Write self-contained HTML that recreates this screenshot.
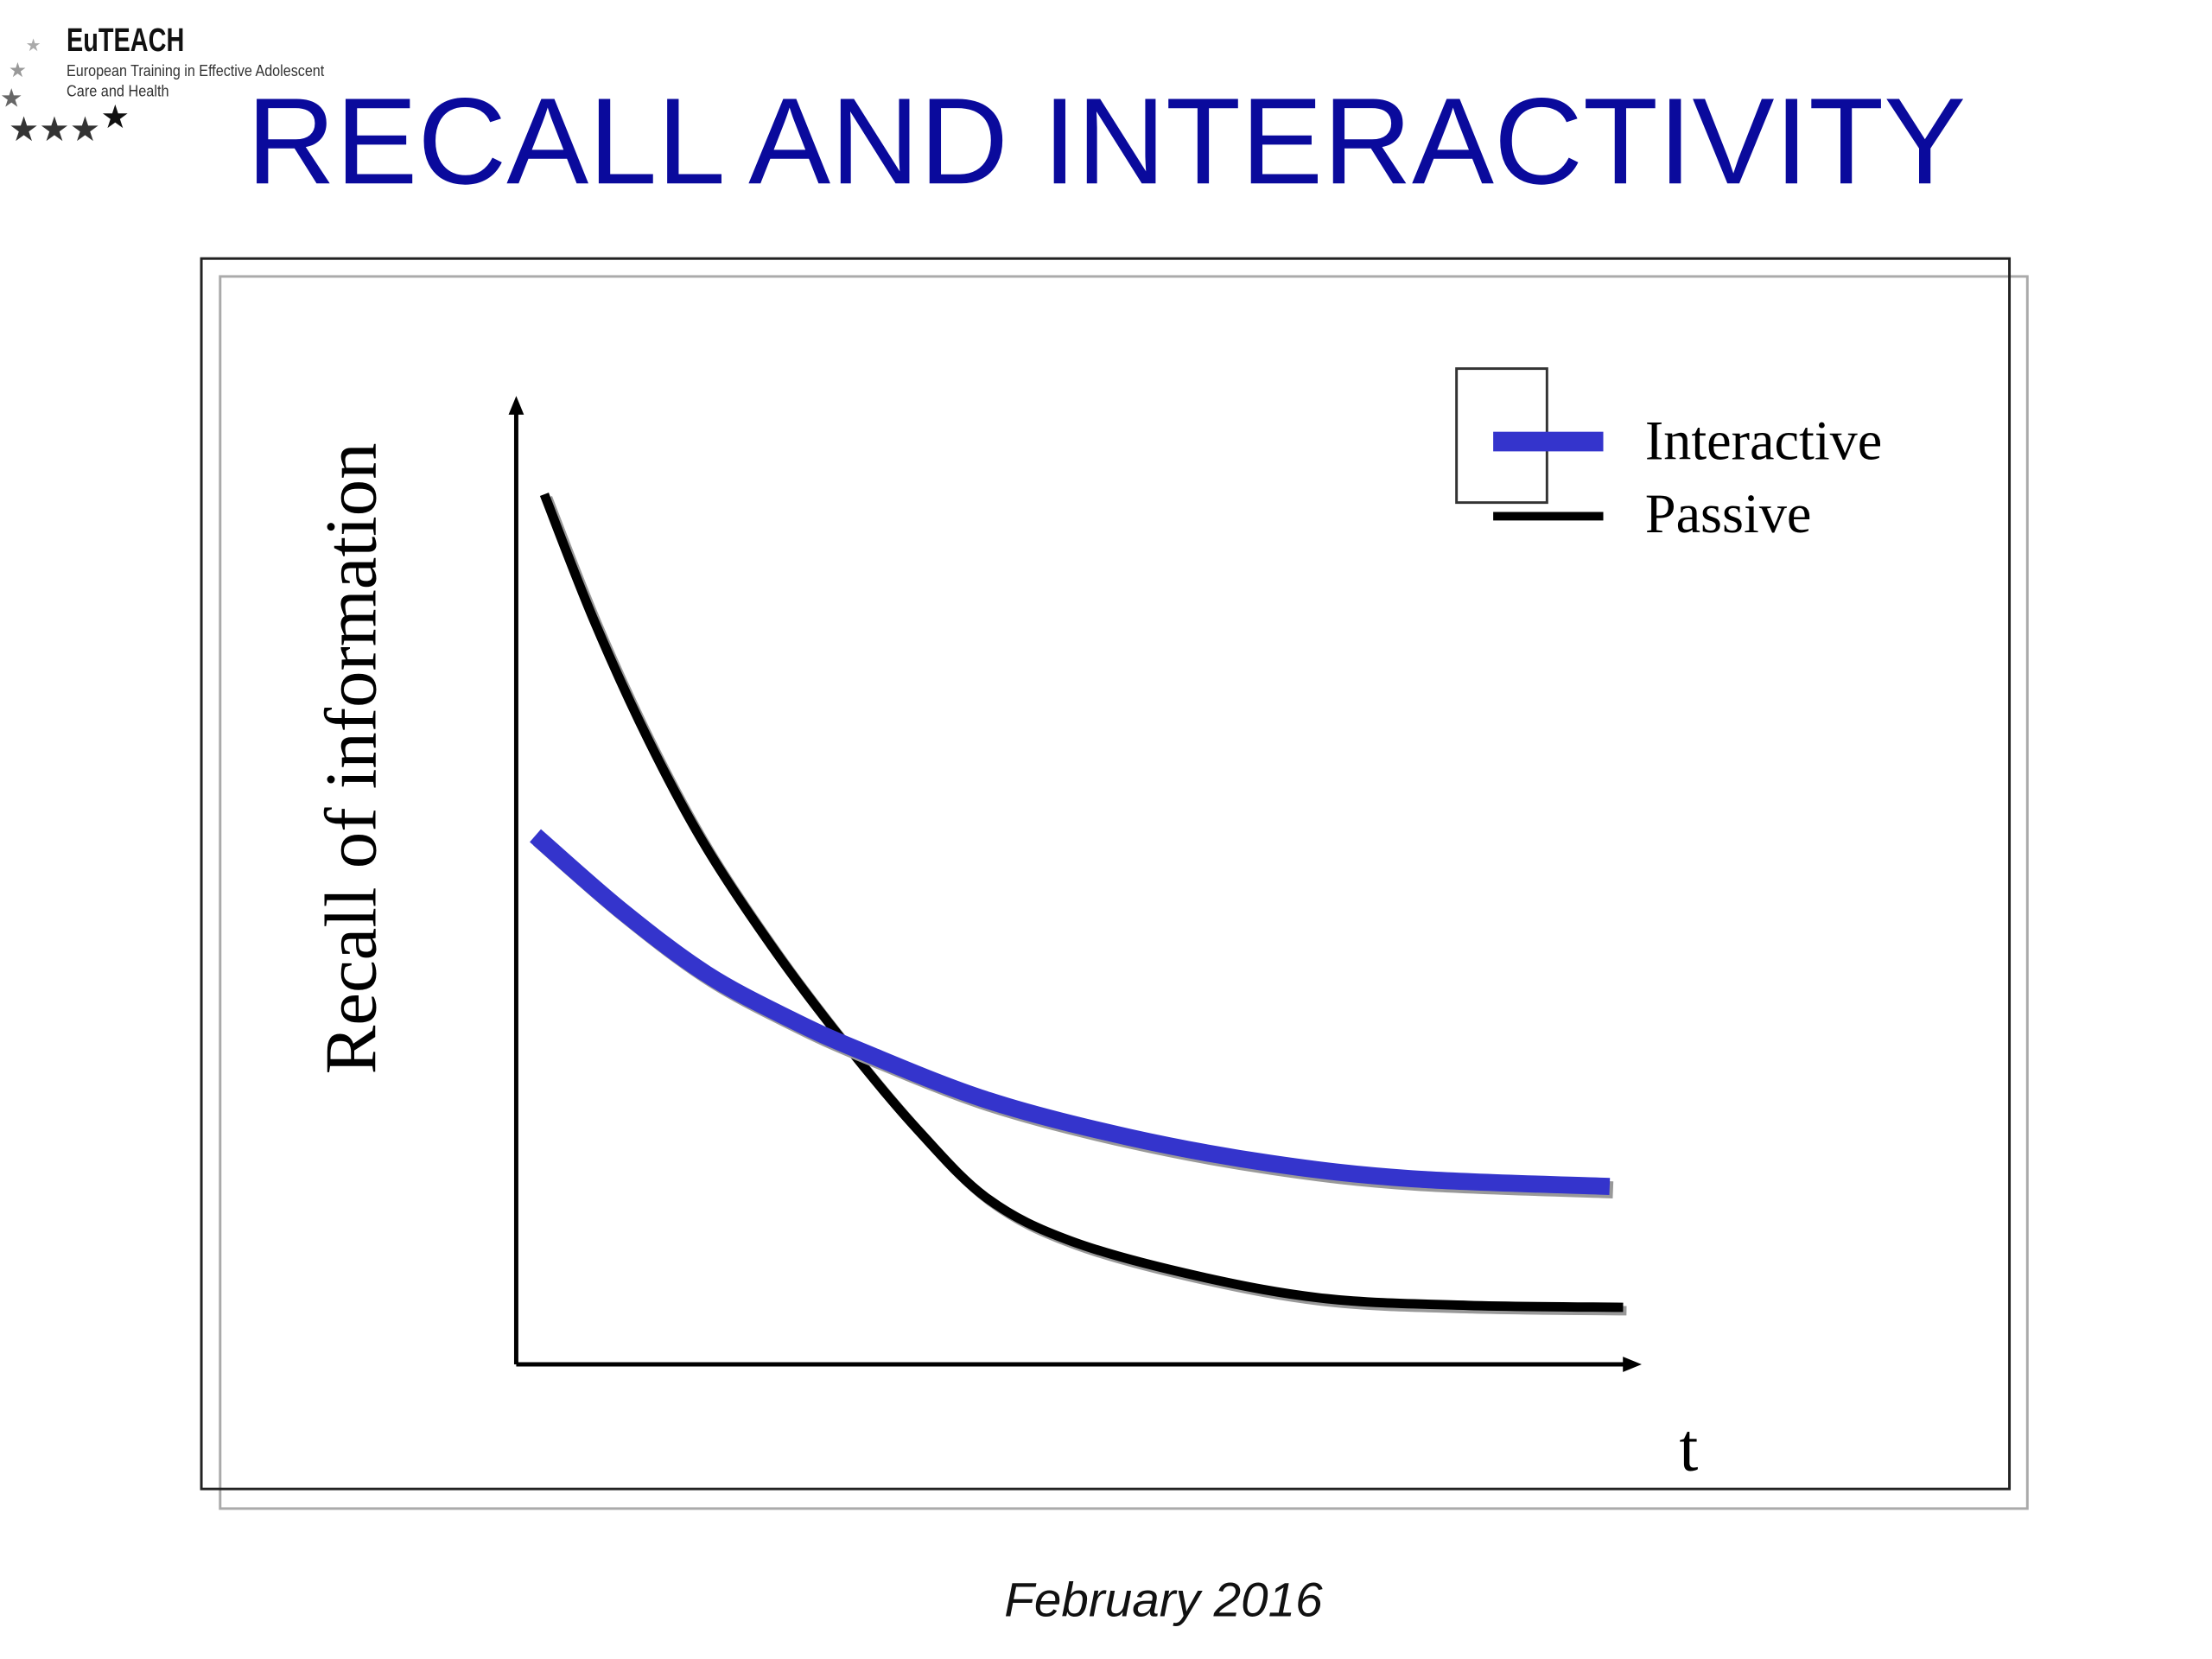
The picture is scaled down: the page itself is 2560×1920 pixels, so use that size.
<!DOCTYPE html>
<html><head><meta charset="utf-8"><style>
html,body{margin:0;padding:0;background:#fff;}
body{width:2560px;height:1920px;overflow:hidden;}
svg{display:block;}
</style></head><body>
<svg width="2560" height="1920" viewBox="0 0 2560 1920">
<g transform="scale(0.9875)">
<g fill="#666">
<text x="78" y="60" font-family="Liberation Sans, sans-serif" font-size="38" font-weight="bold" fill="#111" textLength="138" lengthAdjust="spacingAndGlyphs">EuTEACH</text>
<text x="78" y="89" font-family="Liberation Sans, sans-serif" font-size="19" fill="#333" textLength="302" lengthAdjust="spacingAndGlyphs">European Training in Effective Adolescent</text>
<text x="78" y="113" font-family="Liberation Sans, sans-serif" font-size="19" fill="#333" textLength="120" lengthAdjust="spacingAndGlyphs">Care and Health</text>
<text x="10" y="165" font-size="40" fill="#333">★★★</text>
<text x="118" y="150" font-size="38" fill="#111">★</text>
<text x="0" y="125" font-size="30" fill="#666">★</text>
<text x="10" y="90" font-size="24" fill="#999">★</text>
<text x="30" y="60" font-size="20" fill="#aaa">★</text>
</g>
<text x="289" y="215" font-family="Liberation Sans, sans-serif" font-size="144" fill="#0a0a9c" textLength="2015" lengthAdjust="spacingAndGlyphs">RECALL AND INTERACTIVITY</text>
<rect x="258" y="324" width="2118" height="1444" fill="none" stroke="#aaa" stroke-width="3"/>
<rect x="236" y="303" width="2119" height="1442" fill="#fff" fill-opacity="0" stroke="#222" stroke-width="3"/>
<g id="chart"></g>
<text x="1177" y="1894" font-family="Liberation Sans, sans-serif" font-size="56" font-style="italic" fill="#111" textLength="373" lengthAdjust="spacingAndGlyphs">February 2016</text>
</g>
</svg>
<script>
const timeCategories = ["t"];
const passiveX = [0.25,0.69,1.18,1.69,2.32,2.94,3.57,4.20,4.95,6.08,7.21,8.47,9.85];
const passiveY = [90,77,64.5,53.5,42.5,33,24.3,17.1,12.7,9.1,6.8,6.1,5.9];
const interactiveX = [0.17,0.93,1.69,2.44,3.07,4.20,5.45,6.71,7.97,9.73];
const interactiveY = [54.7,47,40.4,35.7,32.4,27.3,23.5,20.8,19.2,18.4];
const legendLabels = ["Interactive","Passive"];

const NS="http://www.w3.org/2000/svg";
const X0=605,X1=1922,Y0=1599,Y1=466;
function sx(v){return X0+(v/10)*(X1-X0);}
function sy(v){return Y0-(v/100)*(Y0-Y1);}
const g=document.getElementById('chart');
function mk(tag,attrs){const e=document.createElementNS(NS,tag);for(const k in attrs)e.setAttribute(k,attrs[k]);g.appendChild(e);return e;}
function smooth(xs,ys,dx,dy){
  const p=xs.map((x,i)=>[sx(x)+dx,sy(ys[i])+dy]);
  let d="M"+p[0][0]+","+p[0][1];
  for(let i=0;i<p.length-1;i++){
    const p0=p[Math.max(0,i-1)],p1=p[i],p2=p[i+1],p3=p[Math.min(p.length-1,i+2)];
    const c1=[p1[0]+(p2[0]-p0[0])/6,p1[1]+(p2[1]-p0[1])/6];
    const c2=[p2[0]-(p3[0]-p1[0])/6,p2[1]-(p3[1]-p1[1])/6];
    d+=" C"+c1[0]+","+c1[1]+" "+c2[0]+","+c2[1]+" "+p2[0]+","+p2[1];
  }
  return d;
}
let e;
e=mk('line',{x1:X0,y1:Y0,x2:X0,y2:Y1+14,stroke:'#000','stroke-width':5});


e=mk('polygon',{points:`${X0-9},${Y1+20} ${X0+9},${Y1+20} ${X0},${Y1-2}`,fill:'#000'});


e=mk('line',{x1:X0,y1:Y0,x2:X1-14,y2:Y0,stroke:'#000','stroke-width':5});


e=mk('polygon',{points:`${X1-20},${Y0-9} ${X1-20},${Y0+9} ${X1+2},${Y0}`,fill:'#000'});


e=mk('path',{d:smooth(passiveX,passiveY,4,4),fill:'none',stroke:'#999','stroke-width':11});


e=mk('path',{d:smooth(passiveX,passiveY,0,0),fill:'none',stroke:'#000','stroke-width':11});


e=mk('path',{d:smooth(interactiveX,interactiveY,4,4),fill:'none',stroke:'#999','stroke-width':20});


e=mk('path',{d:smooth(interactiveX,interactiveY,0,0),fill:'none',stroke:'#3434cc','stroke-width':20});


e=mk('text',{x:0,y:0,transform:'translate(440,889) rotate(-90)','text-anchor':'middle','font-family':'Liberation Serif, serif','font-size':86,fill:'#000'});
e.textContent='Recall of information';


e=mk('text',{x:1968,y:1723,'font-family':'Liberation Serif, serif','font-size':80,fill:'#000'});
e.textContent=timeCategories[0];


e=mk('rect',{x:1707,y:432,width:106,height:157,fill:'none',stroke:'#333','stroke-width':3});


e=mk('rect',{x:1750,y:506,width:129,height:23,fill:'#3434cc'});


e=mk('rect',{x:1750,y:600,width:129,height:10,fill:'#000'});


e=mk('text',{x:1928,y:538,'font-family':'Liberation Serif, serif','font-size':65,fill:'#000'});
e.textContent=legendLabels[0];


e=mk('text',{x:1928,y:624,'font-family':'Liberation Serif, serif','font-size':65,fill:'#000'});
e.textContent=legendLabels[1];


</script>
</body></html>
